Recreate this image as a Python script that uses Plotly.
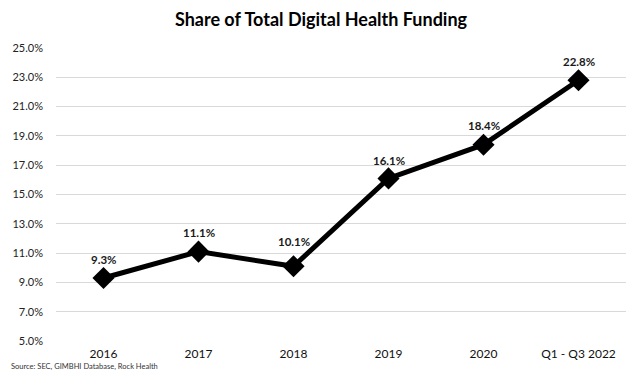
import plotly.graph_objects as go

categories = ["2016", "2017", "2018", "2019", "2020", "Q1 - Q3 2022"]
share = [9.3, 11.1, 10.1, 16.1, 18.4, 22.8]
labels = ["9.3%", "11.1%", "10.1%", "16.1%", "18.4%", "22.8%"]
label_lift = [19, 19, 25, 18, 19, 19]
y_ticks = [5, 7, 9, 11, 13, 15, 17, 19, 21, 23, 25]
source_text = "Source: SEC, GIMBHI Database, Rock Health"

FONT = "Lato, Calibri, Carlito, sans-serif"
L, R, T, B = 50, 16, 48, 31
W, H = 642, 373
PW, PH = W - L - R, H - T - B

fig = go.Figure()
fig.add_trace(go.Scatter(
    x=categories, y=share, mode="lines+markers",
    line=dict(color="black", width=5),
    marker=dict(symbol="diamond", size=17, color="black"),
    cliponaxis=False, hoverinfo="skip"
))
# category axis: annotation x given as category index
annotations = [dict(x=i, y=v, text=f"<b>{t}</b>", showarrow=False, yshift=s,
                    xanchor="center", yanchor="middle",
                    font=dict(family=FONT, size=11.5, color="#1a1a1a"))
               for i, (v, t, s) in enumerate(zip(share, labels, label_lift))]
annotations.append(dict(text=source_text, xref="paper", yref="paper",
                        x=(3 - L) / PW, y=-(368 - (H - B)) / PH,
                        xanchor="left", yanchor="middle", showarrow=False,
                        font=dict(family=FONT, size=7.5, color="#333")))
fig.update_layout(
    width=W, height=H,
    margin=dict(l=L, r=R, t=T, b=B),
    paper_bgcolor="white", plot_bgcolor="white",
    showlegend=False,
    title=dict(text="<b>Share of Total Digital Health Funding</b>", x=0.5, xanchor="center",
               y=1 - 20 / H, yanchor="middle",
               font=dict(family=FONT, size=18, color="black")),
    font=dict(family=FONT, size=11, color="#222"),
    annotations=annotations,
)
fig.update_xaxes(type="category", showgrid=False, showline=False, ticks="",
                 tickfont=dict(size=12, color="#111"),
                 range=[-0.5, 5.5], ticklabelstandoff=4)
fig.update_yaxes(range=[5, 25], tickvals=y_ticks, ticktext=[f"{v:.1f}%" for v in y_ticks],
                 showgrid=True, gridcolor="#d9d9d9", gridwidth=1, zeroline=False,
                 showline=False, ticks="", ticklabelstandoff=12,
                 tickfont=dict(size=11, color="#222"))
fig.write_html("out.html", config={"displayModeBar": False},
               post_script="document.body.style.margin='0';")
